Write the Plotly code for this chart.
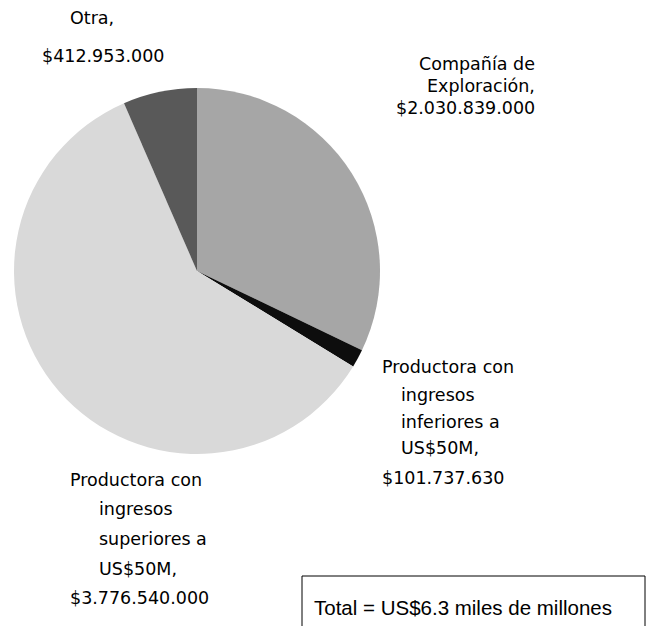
import plotly.graph_objects as go

# Oil & gas revenue by company type (US$)
categories = [
    "Compañía de Exploración",
    "Productora con ingresos inferiores a US$50M",
    "Productora con ingresos superiores a US$50M",
    "Otra",
]
values = [2030839000, 101737630, 3776540000, 412953000]
colors = ["#a6a6a6", "#0d0d0d", "#d9d9d9", "#595959"]
total_note = "Total = US$6.3 miles de millones"

W, H = 648, 626


def px(x):
    return x / W


def py(y):
    return 1 - y / H


def money(v):
    return "$" + f"{v:,}".replace(",", ".")


fig = go.Figure(
    go.Pie(
        labels=categories,
        values=values,
        sort=False,
        direction="clockwise",
        rotation=0,
        marker=dict(colors=colors, line=dict(width=0)),
        textinfo="none",
        hoverinfo="label+value",
        domain=dict(x=[px(14), px(380)], y=[py(454), py(88)]),
        showlegend=False,
    )
)

label_font = dict(family="DejaVu Sans", size=17.5, color="#000000")
annotations = []


def add(text, x, y, anchor="left"):
    annotations.append(
        dict(
            text=text, x=px(x), y=py(y), xref="paper", yref="paper",
            xanchor=anchor, yanchor="middle", showarrow=False, font=label_font,
        )
    )


# Otra
add("Otra,", 92, 18, "center")
add(money(values[3]), 103, 56, "center")

# Compañía de Exploración
add("Compañía de", 537, 64, "right")
add("Exploración,", 537, 86, "right")
add(money(values[0]), 537, 108, "right")

# Productora < US$50M
add("Productora con", 380, 367)
add("ingresos", 399, 395)
add("inferiores a", 399, 422)
add("US$50M,", 399, 448)
add(money(values[1]), 380, 478)

# Productora > US$50M
add("Productora con", 68, 480)
add("ingresos", 97, 509)
add("superiores a", 97, 539)
add("US$50M,", 97, 569)
add(money(values[2]), 68, 598)

annotations.append(
    dict(
        text=total_note, x=px(312), y=py(607), xref="paper", yref="paper",
        xanchor="left", yanchor="middle", showarrow=False,
        font=dict(family="Liberation Sans", size=20.5, color="#000000"),
    )
)

fig.update_layout(
    width=W,
    height=H,
    margin=dict(l=0, r=0, t=0, b=0),
    paper_bgcolor="white",
    plot_bgcolor="white",
    annotations=annotations,
    shapes=[
        dict(
            type="rect", xref="paper", yref="paper",
            x0=px(302), x1=px(645), y0=py(640), y1=py(576),
            line=dict(color="#000000", width=1), fillcolor="rgba(0,0,0,0)",
        )
    ],
)

fig.write_html("out.html")
